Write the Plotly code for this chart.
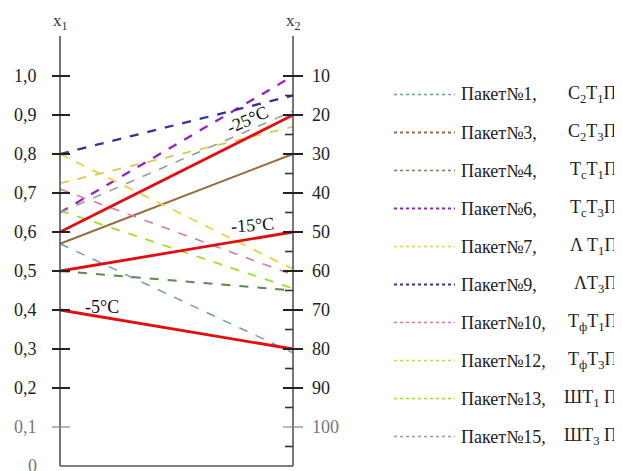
import plotly.graph_objects as go

# ---- data ----
packets = ["Пакет№1,", "Пакет№3,", "Пакет№4,", "Пакет№6,", "Пакет№7,",
           "Пакет№9,", "Пакет№10,", "Пакет№12,", "Пакет№13,", "Пакет№15,"]
codes = ["C<sub>2</sub>T<sub>1</sub>П", "C<sub>2</sub>T<sub>3</sub>П",
         "T<sub>c</sub>T<sub>1</sub>П", "T<sub>c</sub>T<sub>3</sub>П",
         "Λ T<sub>1</sub>П", "ΛT<sub>3</sub>П",
         "T<sub>ф</sub>T<sub>1</sub>П", "T<sub>ф</sub>T<sub>3</sub>П",
         "ШT<sub>1</sub> П", "ШT<sub>3</sub> П"]
x1_values = [0.57, 0.57, 0.50, 0.65, 0.80, 0.80, 0.71, 0.725, 0.655, 0.65]
x2_values = [81, 30, 65, 10, 59.5, 15, 61, 23, 64.5, 19]
colors = ["#6d9fb0", "#9b6a3c", "#5e8a4a", "#9a1fc0", "#f0d040",
          "#3a2fa0", "#d77aa8", "#cfd050", "#9ae030", "#9a9a9a"]
widths = [1.5, 2, 1.8, 2.3, 1.8, 2.3, 1.6, 1.8, 1.8, 1.6]
plot_dash = ["dash", "solid", "dash", "dash", "dash", "dash", "dash", "dash", "dash", "dash"]

temps = ["-5°C", "-15°C", "-25°C"]
temp_x1 = [0.40, 0.50, 0.60]
temp_x2 = [80, 50, 20]

x1_ticks = [0.0, 0.1, 0.2, 0.3, 0.4, 0.5, 0.6, 0.7, 0.8, 0.9, 1.0]
x1_labels = ["0", "0,1", "0,2", "0,3", "0,4", "0,5", "0,6", "0,7", "0,8", "0,9", "1,0"]
x2_ticks = [10, 20, 30, 40, 50, 60, 70, 80, 90, 100]
x2_minor = [15, 25, 35, 45, 55, 65, 75, 85, 95, 105]


def x2_pos(v):
    # right scale: 10 at top (same height as 1,0), 100 at height of 0,1
    return 1.1 - v / 100.0


W, H = 622, 471
OFF = 8.0       # page margin of the html body
PX_X = 233.0    # pixels per unit in x (between the two scales)
PX_Y = 390.0    # pixels per unit of x1
X0, Y0 = 60.0 - OFF, 466.0 - OFF


def px(xp):
    return (xp - OFF) / W


def py(yp):
    return 1 - (yp - OFF) / H


fig = go.Figure()

for i in range(len(packets)):
    fig.add_trace(go.Scatter(
        x=[0, 1], y=[x1_values[i], x2_pos(x2_values[i])], mode="lines",
        line=dict(color=colors[i], width=widths[i], dash=plot_dash[i]),
        showlegend=False, hoverinfo="skip"))

for i in range(len(temps)):
    fig.add_trace(go.Scatter(
        x=[0, 1], y=[temp_x1[i], x2_pos(temp_x2[i])], mode="lines",
        line=dict(color="#e01010", width=2.8),
        showlegend=False, hoverinfo="skip"))

axis_color = "#555555"
top = (Y0 - 28) / PX_Y
shapes = [
    dict(type="line", x0=0, x1=0, y0=0, y1=top, line=dict(color=axis_color, width=1.6)),
    dict(type="line", x0=1, x1=1, y0=0, y1=top, line=dict(color=axis_color, width=1.6)),
    dict(type="line", x0=0, x1=1, y0=0, y1=0, line=dict(color=axis_color, width=1.6)),
]
annotations = []
font_serif = "Liberation Serif"

for t, lab in zip(x1_ticks, x1_labels):
    if t > 0:
        shapes.append(dict(type="line", x0=-8 / PX_X, x1=10 / PX_X, y0=t, y1=t,
                           line=dict(color="#222" if t > 0.15 else "#888", width=2 if t > 0.15 else 1.2)))
    annotations.append(dict(x=-21 / PX_X, y=t, text=lab, showarrow=False, xanchor="right",
                            yanchor="middle", font=dict(family=font_serif, size=18,
                                                        color="#222" if t > 0.15 else "#777")))

for v in x2_ticks:
    shapes.append(dict(type="line", x0=1 - 10 / PX_X, x1=1 + 10 / PX_X, y0=x2_pos(v), y1=x2_pos(v),
                       line=dict(color="#222" if v < 95 else "#888", width=2 if v < 95 else 1.2)))
    annotations.append(dict(x=1 + 17 / PX_X, y=x2_pos(v), text=str(v), showarrow=False, xanchor="left",
                            yanchor="middle", font=dict(family=font_serif, size=18,
                                                        color="#222" if v < 95 else "#777")))
for v in x2_minor:
    shapes.append(dict(type="line", x0=1 - 8 / PX_X, x1=1, y0=x2_pos(v), y1=x2_pos(v),
                       line=dict(color="#333", width=1.6)))

annotations.append(dict(x=0, y=(466 - 22) / PX_Y, text="x<sub>1</sub>", showarrow=False,
                        font=dict(family=font_serif, size=17, color="#333")))
annotations.append(dict(x=1, y=(466 - 22) / PX_Y, text="x<sub>2</sub>", showarrow=False,
                        font=dict(family=font_serif, size=17, color="#333")))

# temperature labels
temp_label_pos = [((102 - 60) / PX_X, (466 - 307) / PX_Y, 0),
                  ((252 - 60) / PX_X, (466 - 225) / PX_Y, -4),
                  ((247 - 60) / PX_X, (466 - 120) / PX_Y, -24)]
for lab, (tx, ty, ang) in zip(temps, temp_label_pos):
    annotations.append(dict(x=tx, y=ty, text=lab, showarrow=False, textangle=ang,
                            font=dict(family=font_serif, size=18, color="#111")))

# legend (manual)
row0, row_step = 94.5, 38.0
for i in range(len(packets)):
    ry = row0 + i * row_step
    shapes.append(dict(type="line", xref="paper", yref="paper", x0=px(394), x1=px(455),
                       y0=py(ry), y1=py(ry),
                       line=dict(color=colors[i], width=widths[i] * 0.9, dash="dot")))
    annotations.append(dict(xref="paper", yref="paper", x=px(459), y=py(ry), text=packets[i],
                            showarrow=False, xanchor="left", yanchor="middle",
                            font=dict(family=font_serif, size=18, color="#222")))
    annotations.append(dict(xref="paper", yref="paper", x=px(619), y=py(ry), text=codes[i],
                            showarrow=False, xanchor="right", yanchor="middle",
                            font=dict(family=font_serif, size=18, color="#222")))

fig.update_layout(
    width=W, height=H, margin=dict(l=0, r=0, t=0, b=0),
    paper_bgcolor="white", plot_bgcolor="white",
    xaxis=dict(range=[-X0 / PX_X, (W - X0) / PX_X], visible=False, fixedrange=True),
    yaxis=dict(range=[(Y0 - H) / PX_Y, Y0 / PX_Y], visible=False, fixedrange=True),
    shapes=shapes, annotations=annotations, showlegend=False,
)

fig.write_html("out.html")
